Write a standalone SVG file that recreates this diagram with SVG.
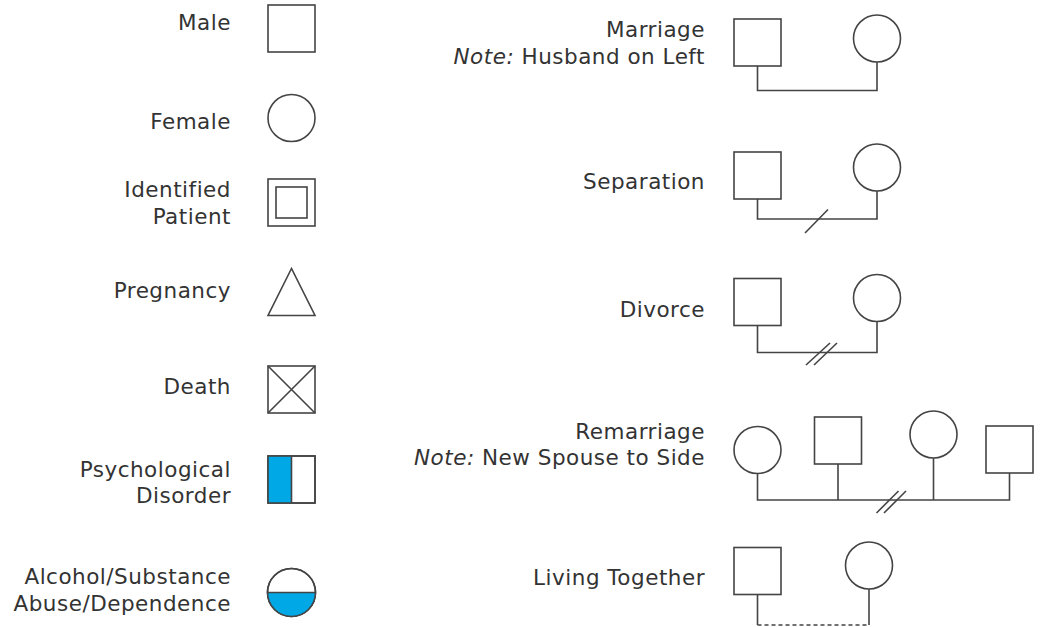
<svg xmlns="http://www.w3.org/2000/svg" width="1052" height="627" viewBox="0 0 1052 627">
<style>
  .lbl { font-family: "DejaVu Sans", "Liberation Sans", sans-serif; font-size: 21.5px; letter-spacing: 0.5px; fill: #333; text-anchor: end; }
  .it { font-style: italic; }
  .sym { fill: #fff; stroke: #444; stroke-width: 1.6; }
  .ln { fill: none; stroke: #444; stroke-width: 1.6; }
  .fill { fill: #00A9E6; }
  .dash { fill: none; stroke: #444; stroke-width: 1.6; stroke-dasharray: 4 3; }
</style>
<rect width="1052" height="627" fill="#fff"/>

<g id="male">
  <text class="lbl" x="231" y="30">Male</text>
  <rect class="sym" x="268" y="5" width="47" height="47"/>
</g>
<g id="female">
  <text class="lbl" x="231" y="129">Female</text>
  <circle class="sym" cx="291.5" cy="118" r="23.5"/>
</g>
<g id="identified-patient">
  <text class="lbl" x="231" y="197">Identified</text>
  <text class="lbl" x="231" y="224">Patient</text>
  <rect class="sym" x="268" y="179" width="47" height="47"/>
  <rect class="sym" x="276" y="187" width="31" height="31"/>
</g>
<g id="pregnancy">
  <text class="lbl" x="231" y="298">Pregnancy</text>
  <polygon class="sym" points="291.5,268.5 268,315.5 315,315.5"/>
</g>
<g id="death">
  <text class="lbl" x="231" y="394">Death</text>
  <rect class="sym" x="268" y="366" width="47" height="47"/>
  <path class="ln" d="M268,366 L315,413 M315,366 L268,413"/>
</g>
<g id="psychological-disorder">
  <text class="lbl" x="231" y="476.5">Psychological</text>
  <text class="lbl" x="231" y="503">Disorder</text>
  <rect class="sym" x="268" y="456" width="47" height="47"/>
  <rect class="fill" x="268" y="456" width="23.5" height="47"/>
  <rect class="ln" x="268" y="456" width="47" height="47"/>
  <line class="ln" x1="291.5" y1="456" x2="291.5" y2="503"/>
</g>
<g id="substance-abuse">
  <text class="lbl" x="231" y="584">Alcohol/Substance</text>
  <text class="lbl" x="231" y="611">Abuse/Dependence</text>
  <circle class="sym" cx="291.5" cy="592.5" r="24"/>
  <path class="fill" d="M267.5,592.5 A24,24 0 0 0 315.5,592.5 Z"/>
  <circle class="ln" cx="291.5" cy="592.5" r="24"/>
  <line class="ln" x1="267.5" y1="592.5" x2="315.5" y2="592.5"/>
</g>

<g id="marriage">
  <text class="lbl" x="705" y="37">Marriage</text>
  <text class="lbl" x="705" y="63.5"><tspan class="it">Note:</tspan> Husband on Left</text>
  <rect class="sym" x="734" y="19" width="47" height="47"/>
  <circle class="sym" cx="877" cy="38.5" r="23.5"/>
</g>
<g id="separation">
  <text class="lbl" x="705" y="188.5">Separation</text>
  <rect class="sym" x="734" y="152" width="47" height="47"/>
  <circle class="sym" cx="877" cy="167.5" r="23.5"/>
</g>
<g id="divorce">
  <text class="lbl" x="705" y="317">Divorce</text>
  <rect class="sym" x="734" y="278.5" width="47" height="47"/>
  <circle class="sym" cx="877" cy="298" r="23.5"/>
</g>
<g id="remarriage">
  <text class="lbl" x="705" y="438.5">Remarriage</text>
  <text class="lbl" x="705" y="465"><tspan class="it">Note:</tspan> New Spouse to Side</text>
  <circle class="sym" cx="757.5" cy="450" r="23.5"/>
  <rect class="sym" x="814.5" y="417" width="47" height="47"/>
  <circle class="sym" cx="933.5" cy="434.5" r="23.5"/>
  <rect class="sym" x="986" y="426" width="47" height="47"/>
</g>
<g id="living-together">
  <text class="lbl" x="705" y="585">Living Together</text>
  <rect class="sym" x="734" y="547.5" width="47" height="47"/>
  <circle class="sym" cx="869" cy="565.5" r="23.5"/>
</g>

<g id="connectors">
  <path class="ln" d="M757.5,66 V90.5 H877 V62"/>
  <path class="ln" d="M757.5,199 V219 H877 V191"/>
  <line class="ln" x1="805" y1="233" x2="828" y2="209.5"/>
  <path class="ln" d="M757.5,325.5 V352.5 H877 V321.5"/>
  <line class="ln" x1="806" y1="365" x2="830" y2="343"/>
  <line class="ln" x1="814" y1="365" x2="837" y2="343"/>
  <path class="ln" d="M757.5,473.5 V500 H1009.5 V473 M838,464 V500 M933.5,458 V500"/>
  <line class="ln" x1="876.5" y1="513" x2="898.5" y2="491"/>
  <line class="ln" x1="884" y1="513" x2="906" y2="491"/>
  <path class="ln" d="M757.5,594.5 V625 M869,589 V625"/>
  <line class="dash" x1="757.5" y1="625" x2="869" y2="625"/>
</g>
</svg>
